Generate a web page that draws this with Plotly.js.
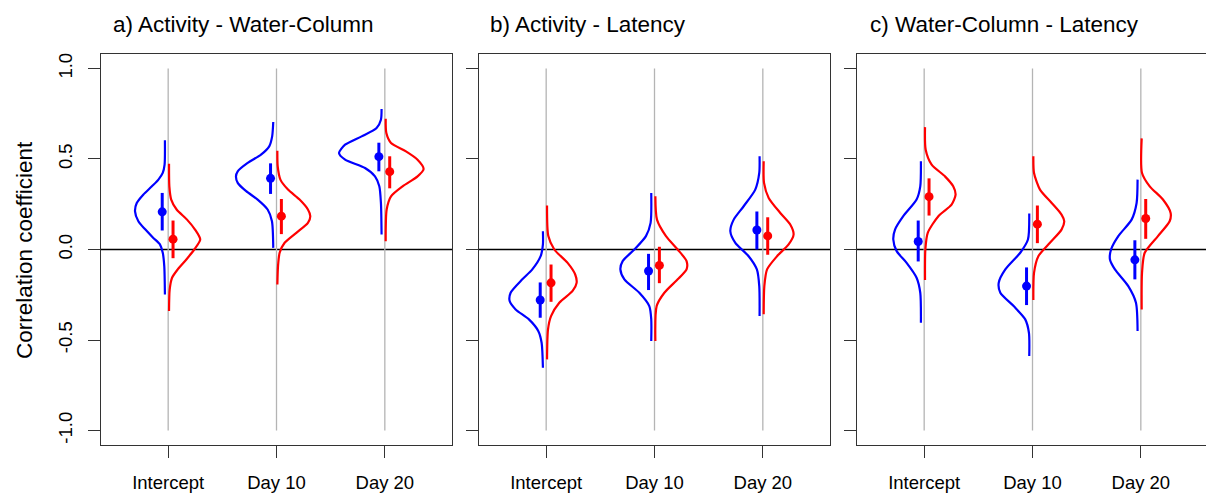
<!DOCTYPE html>
<html>
<head>
<meta charset="utf-8">
<script src="https://cdn.plot.ly/plotly-3.0.1.min.js"></script>
<style>
html,body{margin:0;padding:0;overflow:hidden;background:#fff;}
#chart{width:1210px;height:493px;}
</style>
</head>
<body>
<div id="chart"></div>
<script>
// ---------- DATA ----------
const categories = ["Intercept", "Day 10", "Day 20"];
const panelTitles = ["a) Activity - Water-Column", "b) Activity - Latency", "c) Water-Column - Latency"];
const yTickVals = [-1, -0.5, 0, 0.5, 1];
const yTickText = ["-1.0", "-0.5", "0.0", "0.5", "1.0"];
const yAxisLabel = "Correlation coefficient";

// posterior means and interval bounds (blue / red), per panel, per category
const aBlueMean = [0.208, 0.393, 0.513];
const aBlueLo   = [0.105, 0.307, 0.432];
const aBlueHi   = [0.3125, 0.476, 0.59];
const aRedMean  = [0.057, 0.184, 0.43];
const aRedLo    = [-0.048, 0.085, 0.338];
const aRedHi    = [0.16, 0.279, 0.515];

const bBlueMean = [-0.279, -0.119, 0.108];
const bBlueLo   = [-0.377, -0.224, 0.0];
const bBlueHi   = [-0.182, -0.024, 0.21];
const bRedMean  = [-0.184, -0.088, 0.075];
const bRedLo    = [-0.289, -0.186, -0.029];
const bRedHi    = [-0.083, 0.015, 0.178];

const cBlueMean = [0.044, -0.202, -0.057];
const cBlueLo   = [-0.066, -0.307, -0.165];
const cBlueHi   = [0.16, -0.099, 0.051];
const cRedMean  = [0.292, 0.14, 0.171];
const cRedLo    = [0.1875, 0.035, 0.059];
const cRedHi    = [0.393, 0.243, 0.279];

// density curves: y values and half-widths (category units)
const aBlueDensY = [
  [0.603,0.469,0.423,0.386,0.349,0.303,0.257,0.211,0.156,0.11,0.064,0.028,-0.018,-0.092,-0.248],
  [0.704,0.625,0.57,0.524,0.478,0.432,0.404,0.368,0.322,0.276,0.221,0.156,0.009],
  [0.776,0.717,0.671,0.625,0.579,0.533,0.496,0.45,0.404,0.349,0.257,0.083]];
const aBlueDensW = [
  [0,0.003,0.02,0.06,0.12,0.2,0.26,0.276,0.245,0.18,0.107,0.046,0.02,0.006,0],
  [0,0.01,0.037,0.113,0.236,0.328,0.344,0.328,0.25,0.144,0.052,0.012,0],
  [0,0.006,0.046,0.184,0.337,0.393,0.337,0.153,0.061,0.021,0.006,0]];
const aRedDensY = [
  [0.474,0.349,0.276,0.221,0.165,0.11,0.055,0,-0.055,-0.11,-0.156,-0.221,-0.34],
  [0.546,0.46,0.386,0.331,0.276,0.221,0.184,0.147,0.092,0.037,-0.018,-0.092,-0.193],
  [0.722,0.643,0.588,0.542,0.496,0.445,0.404,0.349,0.294,0.221,0.046]];
const aRedDensW = [
  [0,0.003,0.02,0.07,0.166,0.24,0.288,0.233,0.16,0.08,0.028,0.006,0],
  [0,0.003,0.028,0.098,0.205,0.282,0.304,0.282,0.175,0.067,0.021,0.006,0],
  [0,0.006,0.049,0.187,0.294,0.35,0.294,0.156,0.049,0.009,0]];

const bBlueDensY = [
  [0.101,0.028,-0.037,-0.11,-0.165,-0.239,-0.285,-0.331,-0.386,-0.45,-0.515,-0.653],
  [0.3125,0.147,0.074,0,-0.064,-0.11,-0.165,-0.239,-0.3125,-0.386,-0.506],
  [0.515,0.423,0.331,0.239,0.165,0.101,0.037,-0.037,-0.11,-0.202,-0.368]];
const bBlueDensW = [
  [0,0,0.021,0.098,0.19,0.298,0.307,0.252,0.129,0.043,0.012,0],
  [0,0.006,0.049,0.156,0.264,0.285,0.248,0.11,0.018,0,0],
  [0,0.003,0.04,0.147,0.239,0.27,0.224,0.101,0.025,0.003,0]];
const bRedDensY = [
  [0.243,0.074,0,-0.074,-0.138,-0.184,-0.229,-0.294,-0.368,-0.441,-0.607],
  [0.294,0.165,0.074,0,-0.064,-0.11,-0.165,-0.239,-0.3125,-0.506],
  [0.487,0.368,0.285,0.202,0.138,0.083,0.028,-0.037,-0.11,-0.202,-0.358]];
const bRedDensW = [
  [0,0.012,0.067,0.19,0.26,0.273,0.236,0.113,0.037,0.009,0],
  [0,0.015,0.098,0.206,0.288,0.288,0.206,0.083,0.012,0],
  [0,0.003,0.046,0.153,0.245,0.276,0.23,0.123,0.031,0.006,0]];

const cBlueDensY = [
  [0.487,0.349,0.276,0.184,0.11,0.055,-0.009,-0.074,-0.156,-0.239,-0.404],
  [0.199,0.055,-0.018,-0.11,-0.184,-0.239,-0.3125,-0.386,-0.46,-0.588],
  [0.386,0.257,0.165,0.074,0,-0.055,-0.11,-0.202,-0.294,-0.45]];
const cBlueDensW = [
  [0,0.006,0.04,0.163,0.239,0.255,0.224,0.132,0.04,0.006,0],
  [0,0.012,0.083,0.221,0.282,0.267,0.144,0.037,0.003,0],
  [0,0.009,0.055,0.178,0.245,0.255,0.209,0.086,0.015,0]];
const cRedDensY = [
  [0.676,0.551,0.469,0.404,0.349,0.303,0.248,0.184,0.092,0,-0.169],
  [0.515,0.423,0.331,0.257,0.193,0.156,0.11,0.037,-0.037,-0.129,-0.279],
  [0.614,0.423,0.349,0.276,0.202,0.156,0.074,-0.018,-0.129,-0.331]];
const cRedDensW = [
  [0,0.006,0.061,0.184,0.26,0.282,0.245,0.123,0.025,0.003,0],
  [0,0.006,0.061,0.169,0.26,0.285,0.26,0.153,0.046,0.006,0],
  [0,0.003,0.074,0.196,0.267,0.258,0.15,0.028,0.003,0]];

// ---------- BUILD ----------
const BLUE = "#0000FF", RED = "#FF0000";
const FONT = "Liberation Sans, Arial, sans-serif";
const W = 1210, H = 493;
const panelLeftPx = [101, 479, 857];
const panelWidthPx = 351;
const frameTopPx = 54, frameBottomPx = 445;
const titleLeftPx = [111, 488, 868];

const panels = [
  {blue:{m:aBlueMean,lo:aBlueLo,hi:aBlueHi,dy:aBlueDensY,dw:aBlueDensW},
   red:{m:aRedMean,lo:aRedLo,hi:aRedHi,dy:aRedDensY,dw:aRedDensW}},
  {blue:{m:bBlueMean,lo:bBlueLo,hi:bBlueHi,dy:bBlueDensY,dw:bBlueDensW},
   red:{m:bRedMean,lo:bRedLo,hi:bRedHi,dy:bRedDensY,dw:bRedDensW}},
  {blue:{m:cBlueMean,lo:cBlueLo,hi:cBlueHi,dy:cBlueDensY,dw:cBlueDensW},
   red:{m:cRedMean,lo:cRedLo,hi:cRedHi,dy:cRedDensY,dw:cRedDensW}}
];

const catPos = categories.map((c, i) => i + 1);
const traces = [];
const layout = {
  width: W, height: H,
  margin: {l: 0, r: 0, t: 0, b: 0},
  paper_bgcolor: "#fff", plot_bgcolor: "#fff",
  showlegend: false, hovermode: false,
  font: {family: FONT, color: "#000"},
  shapes: [], annotations: []
};

panels.forEach((p, k) => {
  const xa = k === 0 ? "x" : "x" + (k + 1);
  const ya = k === 0 ? "y" : "y" + (k + 1);
  const xKey = k === 0 ? "xaxis" : "xaxis" + (k + 1);
  const yKey = k === 0 ? "yaxis" : "yaxis" + (k + 1);

  // grey vertical guide lines at each category
  const gx = [], gy = [];
  catPos.forEach(c => { gx.push(c, c, null); gy.push(yTickVals[0], yTickVals[yTickVals.length - 1], null); });
  traces.push({type: "scatter", mode: "lines", x: gx, y: gy, xaxis: xa, yaxis: ya,
    line: {color: "#b4b4b4", width: 1.3}});

  // density half-curves
  [["blue", BLUE, -1, -0.03], ["red", RED, 1, 0.008]].forEach(([key, col, sgn, off]) => {
    const s = p[key];
    catPos.forEach((c, i) => {
      traces.push({type: "scatter", mode: "lines",
        x: s.dw[i].map(w => c + off + sgn * w), y: s.dy[i],
        xaxis: xa, yaxis: ya,
        line: {color: col, width: 2.2, shape: "spline", smoothing: 0.7}});
    });
  });

  // points with intervals
  [["blue", BLUE, -0.055], ["red", RED, 0.045]].forEach(([key, col, off]) => {
    const s = p[key];
    traces.push({type: "scatter", mode: "markers",
      x: catPos.map(c => c + off), y: s.m, xaxis: xa, yaxis: ya,
      marker: {color: col, size: 9},
      error_y: {type: "data", symmetric: false,
        array: s.m.map((m, i) => s.hi[i] - m),
        arrayminus: s.m.map((m, i) => m - s.lo[i]),
        color: col, thickness: 3, width: 0}});
  });

  // zero line
  layout.shapes.push({type: "line", xref: xa + " domain", yref: ya,
    x0: 0, x1: 1, y0: 0, y1: 0, line: {color: "#000", width: 1.3}, layer: "below"});

  const x0 = panelLeftPx[k] / W, x1 = (panelLeftPx[k] + panelWidthPx) / W;
  layout[xKey] = {
    domain: [x0, x1], anchor: ya, range: [0.38, 3.62],
    tickvals: catPos, ticktext: categories,
    ticks: "outside", ticklen: 12, tickwidth: 1, tickcolor: "#333",
    showline: true, mirror: true, linecolor: "#333", linewidth: 1.3,
    showgrid: false, zeroline: false, ticklabelstandoff: 8,
    tickfont: {family: FONT, size: 18.5, color: "#000"}
  };
  layout[yKey] = {
    domain: [1 - frameBottomPx / H, 1 - frameTopPx / H], anchor: xa,
    range: [-1.08, 1.08],
    tickvals: yTickVals, ticktext: yTickText, tickangle: -90,
    ticks: "outside", ticklen: 12, tickwidth: 1, tickcolor: "#333",
    showline: true, mirror: true, linecolor: "#333", linewidth: 1.3,
    showgrid: false, zeroline: false, showticklabels: k === 0,
    ticklabelstandoff: 8,
    tickfont: {family: FONT, size: 18.5, color: "#000"}
  };

  layout.annotations.push({text: panelTitles[k], xref: "paper", yref: "paper",
    x: titleLeftPx[k] / W, y: 1 - 24 / H, xanchor: "left", yanchor: "middle",
    showarrow: false, font: {family: FONT, size: 22.5, color: "#000"}});
});

layout.annotations.push({text: yAxisLabel, xref: "paper", yref: "paper",
  x: 24 / W, y: 1 - 250 / H, xanchor: "center", yanchor: "middle", textangle: -90,
  showarrow: false, font: {family: FONT, size: 22.5, color: "#000"}});

Plotly.newPlot("chart", traces, layout, {displayModeBar: false, staticPlot: true});
</script>
</body>
</html>
